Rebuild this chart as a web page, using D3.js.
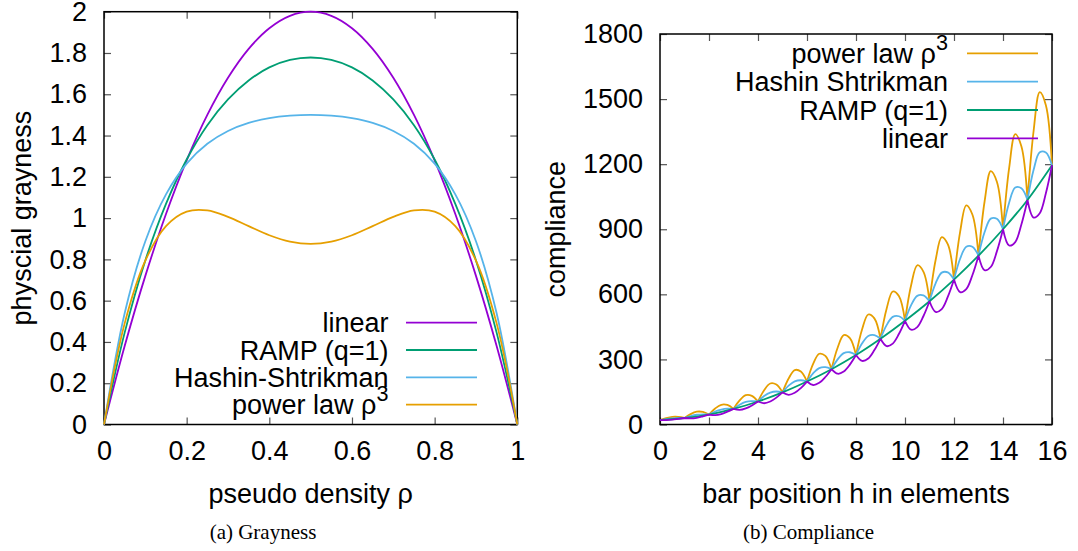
<!DOCTYPE html>
<html>
<head>
<meta charset="UTF-8">
<script src="https://cdn.jsdelivr.net/npm/d3@7"></script>
<title>Grayness / Compliance</title>
<style>
    body { margin: 0; background: #fff; }
    text { font-family: "Liberation Sans", Arial, Helvetica, sans-serif; }
    .caption { font-family: "Liberation Serif", "Times New Roman", serif; }
</style>
</head>
<body>
<script>
    // ---------- (a) grayness
    var rho = [0, 0.05, 0.1, 0.15, 0.2, 0.25, 0.3, 0.35, 0.4, 0.45, 0.5,
        0.55, 0.6, 0.65, 0.7, 0.75, 0.8, 0.85, 0.9, 0.95, 1];
    var grayLinear = [0, 0.38, 0.72, 1.02, 1.28, 1.50, 1.68, 1.82, 1.92, 1.98, 2.00,
        1.98, 1.92, 1.82, 1.68, 1.50, 1.28, 1.02, 0.72, 0.38, 0];
    var grayRamp = [0, 0.445, 0.795, 1.069, 1.284, 1.450, 1.575, 1.667, 1.730, 1.766, 1.778,
        1.766, 1.730, 1.667, 1.575, 1.450, 1.284, 1.069, 0.795, 0.445, 0];
    var grayHS = [0, 0.539, 0.888, 1.115, 1.264, 1.360, 1.422, 1.461, 1.484, 1.496, 1.500,
        1.496, 1.484, 1.461, 1.422, 1.360, 1.264, 1.115, 0.888, 0.539, 0];
    var grayPower = [0, 0.490, 0.794, 0.961, 1.031, 1.037, 1.006, 0.961, 0.917, 0.886, 0.875,
        0.886, 0.917, 0.961, 1.006, 1.037, 1.031, 0.961, 0.794, 0.490, 0];

    // ---------- (b) compliance, h = 0, 0.25, ... 16
    var hPos = d3.range(0, 16.25, 0.25);
    var hInt = d3.range(0, 17, 1);
    var compRamp = [20, 30, 46, 72, 106, 148, 198, 255, 320, 395, 478, 568, 668, 778, 900, 1035, 1195];
    var compPower = [
        20, 29, 35, 35, 30, 48, 59, 58, 46, 74, 91, 90, 72, 111, 135, 132,
        106, 158, 189, 184, 148, 212, 251, 244, 198, 279, 326, 316, 255, 354, 412, 398,
        320, 439, 507, 489, 395, 534, 613, 592, 478, 642, 734, 705, 568, 758, 864, 830,
        668, 888, 1010, 968, 778, 1029, 1168, 1119, 900, 1182, 1338, 1283, 1035, 1354, 1532, 1472,
        1195];
    var compHS = [
        20, 25, 28, 30, 30, 39, 45, 47, 46, 60, 69, 73, 72, 91, 104, 108,
        106, 131, 147, 152, 148, 179, 199, 204, 198, 236, 260, 264, 255, 300, 329, 333,
        320, 374, 408, 412, 395, 458, 496, 499, 478, 550, 593, 595, 568, 651, 700, 701,
        668, 764, 819, 819, 778, 887, 949, 948, 900, 1022, 1092, 1089, 1035, 1174, 1255, 1254,
        1195];
    var compLinear = [
        20, 20, 22, 26, 30, 28, 31, 38, 46, 43, 48, 59, 72, 67, 74, 88,
        106, 98, 106, 124, 148, 137, 146, 168, 198, 182, 192, 219, 255, 234, 244, 276,
        320, 293, 304, 343, 395, 361, 373, 417, 478, 437, 449, 499, 568, 519, 532, 589,
        668, 610, 624, 688, 778, 711, 726, 798, 900, 825, 841, 922, 1035, 954, 974, 1066,
        1195];

    var ticksRho = [0, 0.2, 0.4, 0.6, 0.8, 1];
    var ticksGray = [0, 0.2, 0.4, 0.6, 0.8, 1, 1.2, 1.4, 1.6, 1.8, 2];
    var ticksH = [0, 2, 4, 6, 8, 10, 12, 14, 16];
    var ticksComp = [0, 300, 600, 900, 1200, 1500, 1800];

    var cPurple = "#9400d3", cGreen = "#009e73", cBlue = "#56b4e9", cOrange = "#e69f00";
    var fs = 27;

    var svg = d3.select("body").append("svg")
        .attr("width", 1078)
        .attr("height", 551);

    function frame(x, y, xTicks, yTicks) {
        var x0 = x.range()[0], x1 = x.range()[1], y0 = y.range()[0], y1 = y.range()[1];
        var g = svg.append("g");
        var label = function(v) { return String(v); };

        var ax = [
            [d3.axisBottom(x).tickValues(xTicks).tickSize(-7).tickPadding(16).tickFormat(label), "translate(0," + y0 + ")"],
            [d3.axisTop(x).tickValues(xTicks).tickSize(-7).tickFormat(""), "translate(0," + y1 + ")"],
            [d3.axisLeft(y).tickValues(yTicks).tickSize(-7).tickPadding(17).tickFormat(label), "translate(" + x0 + ",0)"],
            [d3.axisRight(y).tickValues(yTicks).tickSize(-7).tickFormat(""), "translate(" + x1 + ",0)"]
        ];
        ax.forEach(function(a) {
            var gg = g.append("g").attr("transform", a[1]).call(a[0].tickSizeOuter(0));
            gg.select(".domain").remove();
            gg.selectAll(".tick line").attr("stroke", "#555").attr("stroke-width", 1.2);
            gg.selectAll(".tick text")
                .attr("font-family", "Liberation Sans, Arial, sans-serif")
                .attr("font-size", fs)
                .attr("fill", "#000");
        });
        g.append("rect")
            .attr("x", x0).attr("y", y1)
            .attr("width", x1 - x0).attr("height", y0 - y1)
            .attr("fill", "none").attr("stroke", "#000").attr("stroke-width", 1.5);
        return g;
    }

    function legend(items, textX, lx0, lx1, rows) {
        items.forEach(function(it, i) {
            var t = svg.append("text")
                .attr("x", textX).attr("y", rows[i] + 9.5)
                .attr("text-anchor", "end")
                .attr("font-size", fs);
            t.append("tspan").text(it.label);
            if (it.sup) {
                t.append("tspan").attr("dy", -13).attr("font-size", fs * 0.8).text(it.sup);
            }
            svg.append("line")
                .attr("x1", lx0).attr("x2", lx1)
                .attr("y1", rows[i]).attr("y2", rows[i])
                .attr("stroke", it.color).attr("stroke-width", 1.8);
        });
    }

    // ---------- panel (a)
    var xa = d3.scaleLinear().domain([0, 1]).range([104, 517.3]);
    var ya = d3.scaleLinear().domain([0, 2]).range([424.5, 11.7]);
    frame(xa, ya, ticksRho, ticksGray);

    var lineA = d3.line()
        .x(function(d) { return xa(d[0]); })
        .y(function(d) { return ya(d[1]); })
        .curve(d3.curveCatmullRom.alpha(0.5));

    [[grayLinear, cPurple], [grayRamp, cGreen], [grayHS, cBlue], [grayPower, cOrange]].forEach(function(s) {
        svg.append("path")
            .attr("d", lineA(rho.map(function(r, i) { return [r, s[0][i]]; })))
            .attr("fill", "none").attr("stroke", s[1]).attr("stroke-width", 1.8);
    });

    legend([
        { label: "linear", color: cPurple },
        { label: "RAMP (q=1)", color: cGreen },
        { label: "Hashin-Shtrikman", color: cBlue },
        { label: "power law ρ", sup: "3", color: cOrange }
    ], 388.5, 406, 477, [322.7, 350, 377.3, 404.7]);

    svg.append("text")
        .attr("transform", "translate(31," + (ya(1)) + ") rotate(-90)")
        .attr("text-anchor", "middle").attr("font-size", fs)
        .text("physcial grayness");
    svg.append("text")
        .attr("x", (xa(0) + xa(1)) / 2).attr("y", 503)
        .attr("text-anchor", "middle").attr("font-size", fs)
        .text("pseudo density ρ");
    svg.append("text").attr("class", "caption")
        .attr("x", 263).attr("y", 539)
        .attr("text-anchor", "middle").attr("font-size", 21)
        .text("(a) Grayness");

    // ---------- panel (b)
    var xb = d3.scaleLinear().domain([0, 16]).range([660, 1052]);
    var yb = d3.scaleLinear().domain([0, 1800]).range([424.5, 34]);
    frame(xb, yb, ticksH, ticksComp);

    var segLine = d3.line()
        .x(function(d) { return xb(d[0]); })
        .y(function(d) { return yb(d[1]); })
        .curve(d3.curveCatmullRom.alpha(0.5));
    var smoothLine = d3.line()
        .x(function(d) { return xb(d[0]); })
        .y(function(d) { return yb(d[1]); })
        .curve(d3.curveMonotoneX);

    // every element interval is drawn on its own so the kinks at whole h stay sharp
    function pieces(vals) {
        var d = "";
        for (var n = 0; n + 4 < hPos.length; n += 4) {
            var seg = [];
            for (var k = n; k <= n + 4; k++) seg.push([hPos[k], vals[k]]);
            d += segLine(seg);
        }
        return d;
    }

    svg.append("path").attr("d", pieces(compPower))
        .attr("fill", "none").attr("stroke", cOrange).attr("stroke-width", 1.8);
    svg.append("path").attr("d", pieces(compHS))
        .attr("fill", "none").attr("stroke", cBlue).attr("stroke-width", 1.8);
    svg.append("path")
        .attr("d", smoothLine(hInt.map(function(h, i) { return [h, compRamp[i]]; })))
        .attr("fill", "none").attr("stroke", cGreen).attr("stroke-width", 1.8);
    svg.append("path").attr("d", pieces(compLinear))
        .attr("fill", "none").attr("stroke", cPurple).attr("stroke-width", 1.8);

    legend([
        { label: "power law ρ", sup: "3", color: cOrange },
        { label: "Hashin Shtrikman", color: cBlue },
        { label: "RAMP (q=1)", color: cGreen },
        { label: "linear", color: cPurple }
    ], 948, 967, 1038, [53.3, 81.7, 110, 138.3]);

    svg.append("text")
        .attr("transform", "translate(565," + ((yb(0) + yb(1800)) / 2) + ") rotate(-90)")
        .attr("text-anchor", "middle").attr("font-size", fs)
        .text("compliance");
    svg.append("text")
        .attr("x", (xb(0) + xb(16)) / 2).attr("y", 503)
        .attr("text-anchor", "middle").attr("font-size", fs)
        .text("bar position h in elements");
    svg.append("text").attr("class", "caption")
        .attr("x", 808.5).attr("y", 539)
        .attr("text-anchor", "middle").attr("font-size", 21)
        .text("(b) Compliance");
</script>
</body>
</html>
